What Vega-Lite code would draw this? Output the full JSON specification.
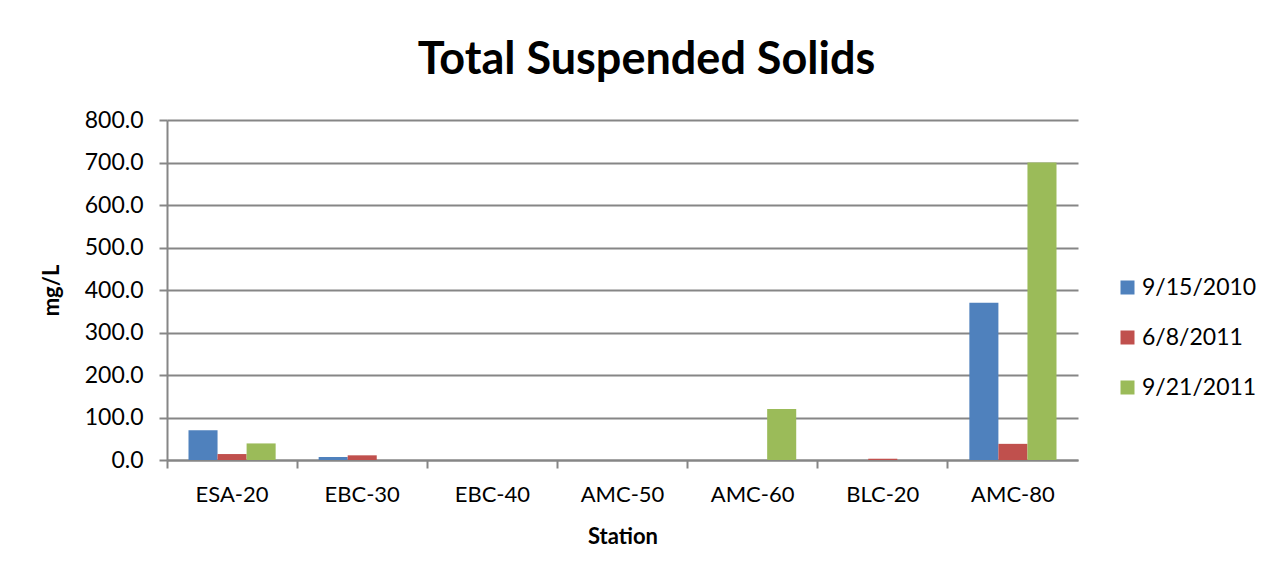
{
  "$schema": "https://vega.github.io/schema/vega-lite/v6.json",
  "autosize": {"type": "none"},
  "padding": {"left": 167, "top": 120, "right": 206, "bottom": 117},
  "width": 911,
  "height": 340,
  "background": "white",
  "title": {
    "text": "Total Suspended Solids",
    "font": "Lato",
    "fontSize": 45,
    "fontWeight": "bold",
    "color": "#000000",
    "anchor": "middle",
    "dx": 24,
    "offset": 26
  },
  "data": {
    "values": [
      {"station": "ESA-20", "date": "9/15/2010", "value": 70},
      {"station": "ESA-20", "date": "6/8/2011", "value": 14},
      {"station": "ESA-20", "date": "9/21/2011", "value": 39},
      {"station": "EBC-30", "date": "9/15/2010", "value": 7},
      {"station": "EBC-30", "date": "6/8/2011", "value": 11},
      {"station": "EBC-30", "date": "9/21/2011", "value": 0},
      {"station": "EBC-40", "date": "9/15/2010", "value": 0},
      {"station": "EBC-40", "date": "6/8/2011", "value": 0},
      {"station": "EBC-40", "date": "9/21/2011", "value": 0},
      {"station": "AMC-50", "date": "9/15/2010", "value": 0},
      {"station": "AMC-50", "date": "6/8/2011", "value": 0},
      {"station": "AMC-50", "date": "9/21/2011", "value": 0},
      {"station": "AMC-60", "date": "9/15/2010", "value": 0},
      {"station": "AMC-60", "date": "6/8/2011", "value": 0},
      {"station": "AMC-60", "date": "9/21/2011", "value": 120},
      {"station": "BLC-20", "date": "9/15/2010", "value": 0},
      {"station": "BLC-20", "date": "6/8/2011", "value": 3},
      {"station": "BLC-20", "date": "9/21/2011", "value": 0},
      {"station": "AMC-80", "date": "9/15/2010", "value": 370},
      {"station": "AMC-80", "date": "6/8/2011", "value": 38},
      {"station": "AMC-80", "date": "9/21/2011", "value": 700}
    ]
  },
  "mark": {"type": "bar"},
  "encoding": {
    "x": {
      "field": "station",
      "type": "nominal",
      "sort": null,
      "scale": {"paddingInner": 0, "paddingOuter": 0},
      "axis": {
        "title": "Station",
        "titleFont": "Lato",
        "titleFontSize": 22,
        "titleFontWeight": "bold",
        "titleColor": "#000000",
        "titlePadding": 21,
        "labelFont": "Lato",
        "labelFontSize": 22,
        "labelColor": "#000000",
        "labelAngle": 0,
        "labelPadding": 16,
        "bandPosition": 0,
        "tickSize": 8,
        "tickColor": "#868686",
        "tickWidth": 2,
        "domainColor": "#868686",
        "domainWidth": 2,
        "grid": false
      }
    },
    "xOffset": {
      "field": "date",
      "type": "nominal",
      "sort": ["9/15/2010", "6/8/2011", "9/21/2011"],
      "scale": {"paddingInner": 0, "paddingOuter": 0.74}
    },
    "y": {
      "field": "value",
      "type": "quantitative",
      "scale": {"domain": [0, 800], "nice": false},
      "axis": {
        "title": "mg/L",
        "titleFont": "Lato",
        "titleFontSize": 22,
        "titleFontWeight": "bold",
        "titleColor": "#000000",
        "titlePadding": 21,
        "values": [0, 100, 200, 300, 400, 500, 600, 700, 800],
        "format": ".1f",
        "labelFont": "Lato",
        "labelFontSize": 23,
        "labelColor": "#000000",
        "labelPadding": 16,
        "tickSize": 8,
        "tickColor": "#868686",
        "tickWidth": 2,
        "domainColor": "#868686",
        "domainWidth": 2,
        "grid": true,
        "gridColor": "#868686",
        "gridWidth": 2
      }
    },
    "color": {
      "field": "date",
      "type": "nominal",
      "sort": ["9/15/2010", "6/8/2011", "9/21/2011"],
      "scale": {
        "domain": ["9/15/2010", "6/8/2011", "9/21/2011"],
        "range": ["#4F81BD", "#C0504D", "#9BBB59"]
      },
      "legend": {
        "title": null,
        "orient": "none",
        "legendX": 949,
        "legendY": 156,
        "symbolType": "square",
        "symbolSize": 196,
        "symbolStrokeWidth": 0,
        "labelFont": "Lato",
        "labelFontSize": 23,
        "labelColor": "#000000",
        "labelOffset": 3,
        "rowPadding": 26
      }
    }
  },
  "config": {
    "view": {"stroke": null}
  }
}
